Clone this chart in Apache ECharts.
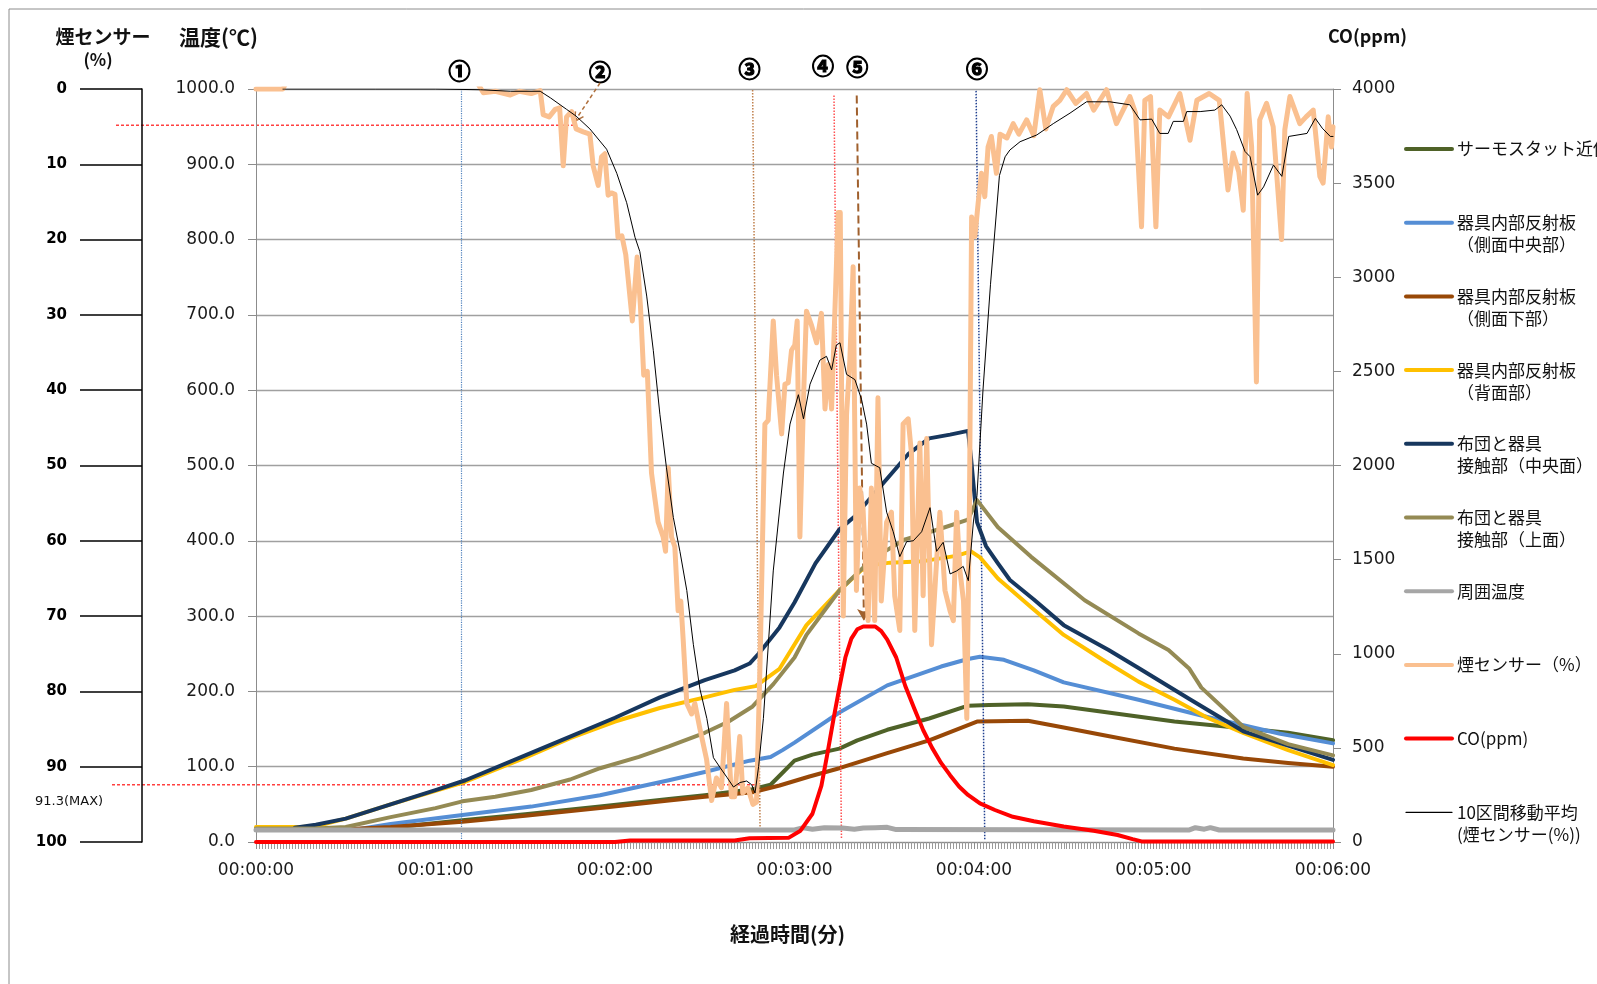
<!DOCTYPE html>
<html>
<head>
<meta charset="utf-8">
<title>煙センサー・温度・CO</title>
<script src="https://cdn.jsdelivr.net/npm/echarts@6/dist/echarts.min.js"></script>
<style>
html,body{margin:0;padding:0;background:#fff;}
#main{width:1597px;height:984px;}
</style>
</head>
<body>
<div id="main"></div>
<script>
// [秒, 値] で読み取り
var seriesNames = ['サーモスタット近傍','器具内部反射板（側面中央部）','器具内部反射板（側面下部）','器具内部反射板（背面部）',
  '布団と器具接触部（中央面）','布団と器具接触部（上面）','周囲温度','煙センサー（%）','CO(ppm)','10区間移動平均(煙センサー(%))'];
var legendLines = [' \nサーモスタット近傍\n ',' \n器具内部反射板\n（側面中央部）',' \n器具内部反射板\n（側面下部）',' \n器具内部反射板\n（背面部）',
  ' \n布団と器具\n接触部（中央面）',' \n布団と器具\n接触部（上面）',' \n周囲温度\n ',' \n煙センサー（%）\n ',' \nCO(ppm)\n ',' \n10区間移動平均\n(煙センサー(%))'];
var seriesColors = ['#4F6228','#558ED5','#984807','#FFC000','#17375E','#948A54','#A6A6A6','#FAC090','#FF0000','#000000'];

var thermostat = [[0,17],[40,17],[69,29],[90,37],[115,47],[138,57],[150,62],[166,70],[172,76],[176,92],[180,108],[186,116],[195,124],[201,135],[211,149],[225,164],[238,181],[245,182],[258,183],[270,180],[283,173],[307,160],[330,151],[345,145],[360,135]];
var sideCenter = [[0,17],[34,17],[45,24],[69,36],[92,47],[115,62],[138,82],[150,93],[165,108],[172,113],[176,122],[180,132],[195,172],[211,208],[229,233],[238,243],[242,246],[250,242],[260,228],[270,212],[295,189],[318,166],[342,144],[360,131]];
var sideLower = [[0,17],[30,17],[45,20],[69,27],[90,35],[115,45],[138,55],[150,60],[166,66],[175,75],[185,87],[195,98],[211,118],[225,135],[241,160],[258,161],[270,152],[283,142],[307,124],[330,111],[345,105],[360,100]];
var backPanel = [[0,20],[15,20],[20,21],[30,31],[45,50],[60,68],[70,80],[90,112],[105,138],[120,160],[135,178],[150,192],[160,202],[167,207],[175,230],[184,288],[195,334],[204,367],[212,371],[223,373],[234,380],[239,386],[242,378],[248,350],[259,312],[270,275],[283,242],[295,213],[307,189],[318,165],[330,145],[345,122],[360,102]];
var contactCenter = [[13,19],[20,23],[30,31],[45,50],[60,69],[70,82],[90,115],[105,140],[120,165],[135,192],[150,215],[160,228],[165,237],[168,250],[175,285],[180,318],[187,370],[195,415],[200,432],[210,478],[218,515],[225,536],[232,541],[238,546],[239,510],[241,425],[244,393],[248,370],[252,348],[260,322],[270,288],[285,255],[295,231],[312,190],[330,147],[345,128],[360,109]];
var contactTop = [[0,18],[20,18],[30,20],[45,33],[60,45],[69,54],[80,60],[92,69],[105,83],[115,98],[128,113],[138,127],[150,145],[158,160],[166,180],[173,210],[180,245],[184,275],[195,334],[206,376],[217,402],[228,415],[238,428],[241,454],[248,418],[259,379],[277,321],[295,277],[305,255],[312,230],[316,205],[330,153],[345,130],[360,115]];
var ambient = [[0,16],[180,16],[183,19],[186,17],[190,19],[196,18.5],[200,17],[203,18.5],[207,19],[211,19.5],[214,16.5],[312,16],[314,19],[317,17],[319,19],[322,16],[360,16]];
var smoke = [[0,0],[5,0],[9,0],[10,-0.8],[40,-0.8],[74,-0.8],[76,0.5],[80,0.3],[85,0.8],[88,0.3],[92,0.6],[95,0.2],[96,3.4],[98,3.7],[100,2.7],[101.5,2.5],[102.7,10.2],[103.8,3.7],[105.5,3],[107,5.3],[109.4,5.7],[111.6,6],[112.7,10.2],[114.4,12.8],[115.5,9],[116.6,8.6],[117.7,14.1],[118.8,13.8],[120,14],[121,19.7],[122.3,19.5],[123.6,22],[125.8,30.8],[127.4,22.3],[128.5,28.8],[129.6,38],[130.8,37.5],[132.2,51],[133.3,54.3],[134.4,57.5],[136.1,59.5],[136.9,61.4],[137.8,50.3],[138.9,59.5],[140,60.8],[141.1,69.3],[142,68],[142.8,73.2],[144,81.6],[145.6,83],[146.7,81.6],[148.4,85],[150.6,89],[152.3,94.5],[153.9,91.5],[155.6,92.8],[157.3,81.6],[158.9,94],[160,94],[161.7,86],[162.7,93.5],[164.4,92.8],[166.1,95],[167.3,94.7],[168.5,76],[170.1,44.5],[171.2,44],[172.9,30.8],[174,38],[175.7,45.8],[176.8,39.2],[177.9,39],[179,34.7],[180.1,34],[180.9,30.8],[181.8,59.5],[183.1,40],[184,29.5],[185.7,31.4],[187.4,33.7],[189,29.8],[190.2,42.5],[191.3,36.6],[192.4,42.5],[193.5,29.5],[194.6,16.4],[195.3,16.4],[196.3,70],[197.4,43.2],[198.5,36],[199.6,23.6],[200.7,66.6],[201.8,53],[202.9,55.6],[204.6,70.6],[205.7,53],[206.8,70.6],[207.9,41],[209,68],[210.8,57.5],[212.4,56.2],[213.5,67.3],[215.2,71.9],[216.3,44.5],[218,43.8],[219.1,48.4],[220.2,71.9],[221.9,47],[223,67.3],[224.2,46.4],[225.8,73.8],[227.5,62.7],[228.6,56.2],[230.3,66.6],[232,69.3],[233.1,70.6],[234.2,56.2],[235.3,64],[236.5,68],[237.6,83.6],[238.5,54.3],[239.2,17],[240.3,19.6],[241.4,15.1],[242.5,11.2],[243.6,14.3],[244.7,7.7],[245.8,6.3],[247.5,11.2],[248.7,6],[251,6.5],[253.1,4.6],[255,6],[257.6,4.1],[260,6.2],[262,0.1],[264,5.3],[266.5,2.3],[268.7,1.5],[271,0.1],[274,1.9],[277.6,0.6],[280,2.8],[284.3,0.1],[287.6,4.6],[292.1,1],[294,3.2],[296,18.3],[297.1,1.5],[299,1],[300.8,18.3],[302.1,2.8],[305,3.7],[308.8,0.6],[312.2,6.8],[314.5,1.5],[318.6,0.6],[322,1.5],[324.9,13.4],[326.6,8.5],[328.5,11],[330,16.1],[331.3,0.6],[332.8,7.7],[334.4,38.9],[335.5,4.1],[337.8,1.9],[340,5],[342.8,20],[343.9,5.4],[345.6,1],[348.9,4.6],[351,3.7],[353.4,2.8],[355.6,11.6],[356.7,12.5],[358.4,3.7],[359.5,7.7],[360,5]];
var co = [[0,0],[120,0],[125,8],[160,8],[165,20],[178,22],[182,60],[186,150],[189,300],[191,470],[193,650],[195,820],[197,980],[199,1080],[201,1130],[203,1145],[207,1145],[209,1120],[211,1075],[214,980],[217,830],[220,710],[223,595],[226,500],[229,420],[232,355],[235,295],[238,250],[242,205],[247,170],[253,134],[260,110],[270,82],[280,60],[288,37],[293,15],[296,3],[360,3]];
var smokeAvg = [[9,0],[40,0],[60,0],[75,0.1],[85,0.3],[95,0.3],[98.5,1.2],[103.8,2.7],[107,3.6],[111.6,5.3],[117.2,8],[120.6,11.2],[123.9,15.1],[126.7,19.7],[128.3,21.6],[130.6,27.5],[132.8,34.7],[135,43.2],[137.2,50.3],[139.5,56.9],[141.7,61.4],[144,66.6],[146.2,73.8],[148.4,79.7],[150.7,83.6],[152.9,88.8],[155.1,90.1],[157.4,91.4],[159.6,92.7],[161.8,92.1],[164,91.9],[165.7,92.4],[166.8,93.5],[168,90],[169.6,83.6],[172.9,64],[176.3,51],[178.5,44.5],[181.3,40.6],[183,43.8],[185.2,39.2],[188.5,36],[190.7,35.5],[192.4,37.3],[194,34],[195.2,33.7],[197.4,37.9],[200.2,38.6],[202.4,41.2],[204.1,44.5],[205.7,49.7],[208.5,50.3],[210.8,56.2],[213,58.8],[215.2,62.1],[217.5,60.1],[219.7,60],[222.5,58.8],[225.3,55.6],[227.5,61.4],[229.7,60.2],[232,64.4],[234.2,64],[236.4,63.4],[238.1,65.3],[239.8,57.5],[241,54],[243,40],[245.5,26],[248.5,11.5],[250.4,9],[252,8.1],[255.4,7],[261,6.1],[266.5,4.6],[272.1,3.2],[277.6,1.7],[285.4,1.7],[292.1,2.1],[295.5,4.1],[299.4,4],[302.1,5.9],[304.9,5.9],[306.6,4.3],[310,4.3],[311.1,3],[315.6,3],[320.5,2.8],[322.8,2.1],[325.6,3.6],[327.8,5.4],[330.6,8.3],[332.3,9],[334.8,14.1],[336.8,13],[340.1,10.1],[342.9,11.6],[345.2,6.3],[351.3,5.9],[354.1,3.9],[356.4,5.2],[359.1,6.3],[360,6.3]];

// 注記（①〜⑥）: [番号, 秒(上端), 秒(下端), CO上端, CO下端]
var eventMarks = [['①',68.5,68.5,4000,12],['③',166,168.5,3995,60],['④',193.2,195.7,3965,15],['⑤',200.8,203.2,3965,1175],['⑥',240.7,243.6,3990,15]];
var eventLabels = [['①',68,71],['②',115,72],['③',165,69],['④',189.5,66],['⑤',201,67],['⑥',241,69]];
var smokeMax = 91.3;

var allData = [thermostat, sideCenter, sideLower, backPanel, contactCenter, contactTop, ambient, smoke, co, smokeAvg];
var widths = [4,4,4,4,4,4,5,5,4,1];
var axisOf = [0,0,0,0,0,0,0,2,1,2];

function fmtTime(v){
  var m = Math.floor(v/60), s = v%60;
  return '00:0' + m + ':' + (s<10?'0':'') + s;
}

var markStyles = {
  '①':{color:'#4F81BD', type:'dotted', width:1.2},
  '③':{color:'#C0804D', type:'dotted', width:1.5},
  '④':{color:'#FF5050', type:'dotted', width:1.5},
  '⑤':{color:'#A0602D', type:'dashed', width:2},
  '⑥':{color:'#1F3F8F', type:'dotted', width:1.5}
};

var series = [];
for (var i=0;i<allData.length;i++){
  var s = {
    name: seriesNames[i], type:'line', data: allData[i], yAxisIndex: axisOf[i],
    symbol:'none', showSymbol:false, smooth:false,
    lineStyle:{color:seriesColors[i], width:widths[i], cap:'round', join:'round'},
    itemStyle:{color:seriesColors[i]},
    z: 2+i
  };
  if (seriesNames[i]==='CO(ppm)'){
    s.markLine = {
      silent:true, symbol:['none','none'], label:{show:false}, animation:false,
      data: eventMarks.map(function(e){
        return [
          {coord:[e[1], e[3]], lineStyle:markStyles[e[0]], symbol:'none'},
          {coord:[e[2], e[4]], symbol: e[0]==='⑤' ? 'arrow' : 'none', symbolSize: e[0]==='⑤' ? [10,12] : 0}
        ];
      })
    };
  }
  series.push(s);
}

var legendData = seriesNames.map(function(n, i){
  return {name:n, lineStyle:{width: i===9 ? 1.3 : 4, color:seriesColors[i]}};
});

var labelFont = 'DejaVu Sans';
var option = {
  animation:false,
  backgroundColor:'#fff',
  grid:{left:256, right:264, top:89, bottom:142, containLabel:false},
  legend:{
    orient:'vertical', left:1404, top:116, padding:0, itemGap:7.7, itemWidth:46, itemHeight:14,
    selectedMode:false, data: legendData,
    itemStyle:{opacity:0},
    formatter:function(name){ return legendLines[seriesNames.indexOf(name)]; },
    textStyle:{fontFamily:'Noto Sans CJK JP', fontSize:17, lineHeight:22, color:'#111'}
  },
  xAxis:{
    type:'value', min:0, max:360, interval:60,
    axisLine:{lineStyle:{color:'#8c8c8c'}},
    axisTick:{length:7, lineStyle:{color:'#8c8c8c'}},
    minorTick:{show:true, splitNumber:60, length:7, lineStyle:{color:'#9a9a9a'}},
    splitLine:{show:false},
    axisLabel:{formatter:fmtTime, margin:20, fontFamily:labelFont, fontSize:17, color:'#1a1a1a'},
    name:'経過時間(分)', nameLocation:'middle', nameGap:82,
    nameTextStyle:{fontFamily:'Noto Sans CJK JP', fontWeight:'bold', fontSize:20, color:'#111', padding:[0,14,0,0]}
  },
  yAxis:[
    {type:'value', position:'left', min:0, max:1000, interval:100,
     axisLine:{show:true, lineStyle:{color:'#8c8c8c'}},
     axisTick:{show:true, length:8, lineStyle:{color:'#8c8c8c'}},
     axisLabel:{formatter:function(v){return v.toFixed(1);}, margin:21, fontFamily:labelFont, fontSize:17, color:'#1a1a1a'},
     splitLine:{lineStyle:{color:'#a0a0a0', width:1.3}}},
    {type:'value', position:'right', min:0, max:4000, interval:500,
     axisLine:{show:true, lineStyle:{color:'#8c8c8c'}},
     axisTick:{show:true, length:8, lineStyle:{color:'#8c8c8c'}},
     axisLabel:{formatter:function(v){return String(v);}, margin:19, fontFamily:labelFont, fontSize:17, color:'#1a1a1a'},
     splitLine:{show:false}},
    {type:'value', position:'left', offset:114, min:0, max:100, interval:10, inverse:true,
     axisLine:{show:true, lineStyle:{color:'#000', width:1.5}},
     axisTick:{show:true, length:62, lineStyle:{color:'#000', width:1.5}},
     axisLabel:{margin:75, fontFamily:'DejaVu Sans', fontWeight:'bold', fontSize:15, color:'#000'},
     splitLine:{show:false}}
  ],
  series: series
};

var chart = echarts.init(document.getElementById('main'));
chart.setOption(option);

function px(t, v, yi){ return chart.convertToPixel({xAxisIndex:0, yAxisIndex:yi}, [t, v]); }

var g = [];
g.push({type:'rect', shape:{x:9, y:9, width:1700, height:1100}, style:{fill:'none', stroke:'#8c8c8c', lineWidth:1}, silent:true});
// 軸タイトル
g.push({type:'text', x:103, y:37, style:{text:'煙センサー', font:'bold 19px "Noto Sans CJK JP"', fill:'#111', align:'center', verticalAlign:'middle'}});
g.push({type:'text', x:98, y:60, style:{text:'(%)', font:'bold 17px "Noto Sans CJK JP"', fill:'#111', align:'center', verticalAlign:'middle'}});
g.push({type:'text', x:179, y:37, style:{text:'温度(℃)', font:'bold 21px "Noto Sans CJK JP"', fill:'#111', align:'left', verticalAlign:'middle'}});
g.push({type:'text', x:1328, y:36, style:{text:'CO(ppm)', font:'bold 18px "Noto Sans CJK JP"', fill:'#111', align:'left', verticalAlign:'middle'}});
// 番号
eventLabels.forEach(function(e){
  var p = px(e[1], 0, 0);
  g.push({type:'text', x:p[0], y:e[2], style:{text:e[0], font:'bold 22px "Noto Sans CJK JP"', fill:'#000', stroke:'#000', lineWidth:1.2, align:'center', verticalAlign:'middle'}});
});
// ② の矢印
var tip = px(106.5, 4.3, 2), tail = px(115, 0, 2);
tail[1] -= 6;
g.push({type:'line', shape:{x1:tail[0], y1:tail[1], x2:tip[0], y2:tip[1]}, style:{stroke:'#B0703D', lineWidth:1.5, lineDash:[4,3]}});
var dx = tip[0]-tail[0], dy = tip[1]-tail[1], L = Math.sqrt(dx*dx+dy*dy); dx/=L; dy/=L;
function rot(a){ var c=Math.cos(a), s=Math.sin(a); return [tip[0]-10*(dx*c-dy*s), tip[1]-10*(dx*s+dy*c)]; }
g.push({type:'polyline', shape:{points:[rot(0.5), tip, rot(-0.5)]}, style:{stroke:'#B0703D', lineWidth:1.5, fill:'none'}});
// 赤破線
var up = px(106.5, 4.8, 2);
g.push({type:'line', shape:{x1:116, y1:up[1], x2:up[0], y2:up[1]}, style:{stroke:'#FF4040', lineWidth:1.5, lineDash:[3,2]}});
var low = px(167, 92.4, 2);
g.push({type:'line', shape:{x1:112, y1:low[1], x2:low[0], y2:low[1]}, style:{stroke:'#FF4040', lineWidth:1.5, lineDash:[3,2]}});
g.push({type:'text', x:35, y:low[1]+17, style:{text:smokeMax.toFixed(1)+'(MAX)', font:'13px "DejaVu Sans"', fill:'#111', align:'left', verticalAlign:'middle'}});

chart.setOption({graphic: g});
</script>
</body>
</html>
